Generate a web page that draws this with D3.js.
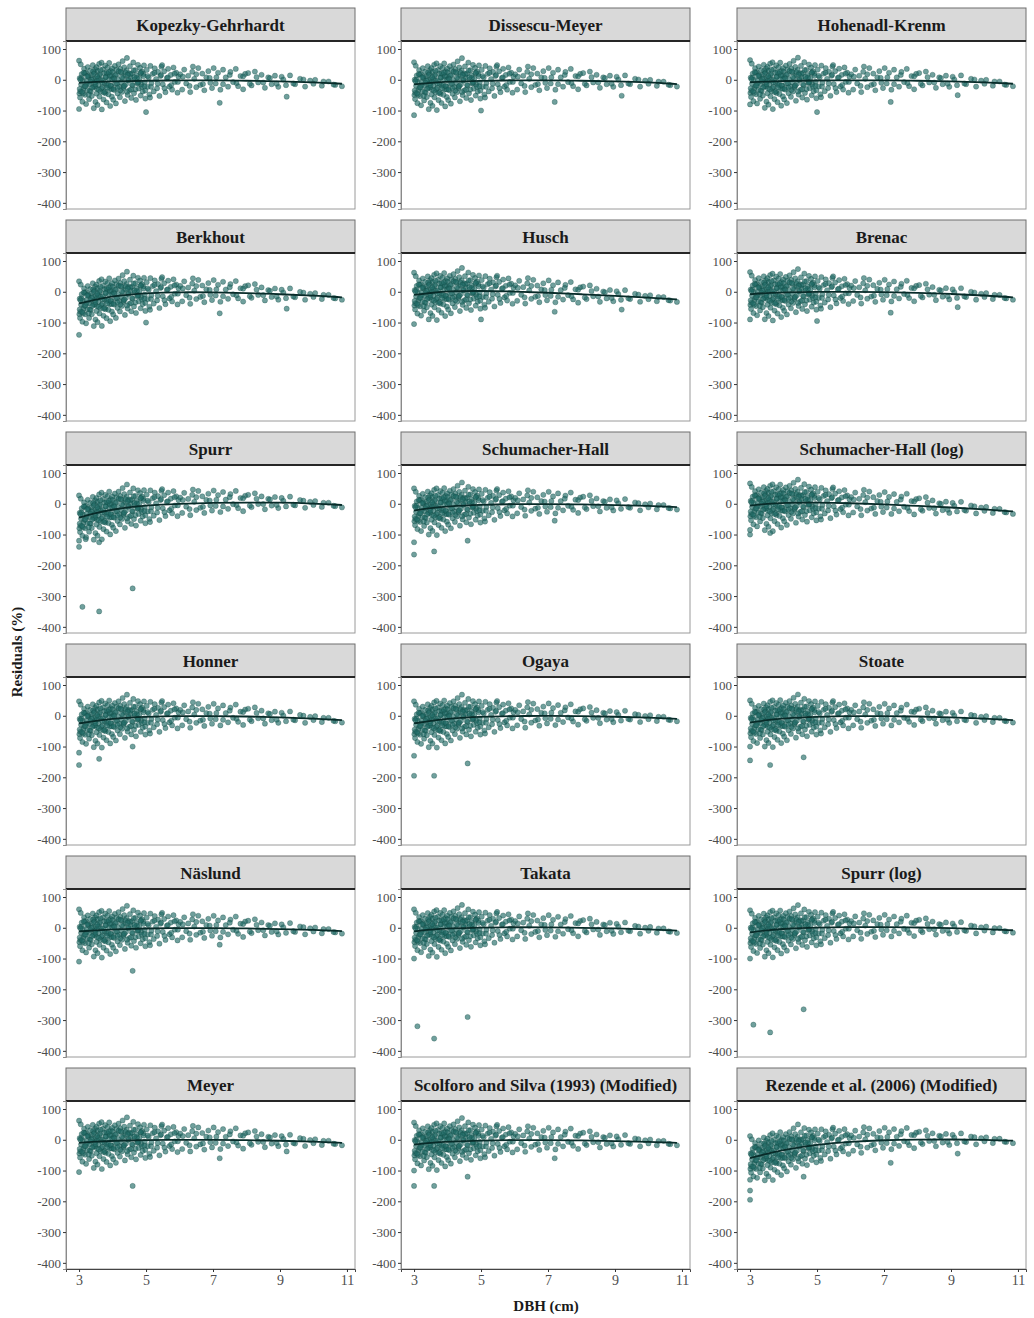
<!DOCTYPE html>
<html>
<head>
<meta charset="utf-8">
<script src="https://cdn.jsdelivr.net/npm/d3@7"></script>
<style>
  body { margin: 0; background: #fff; }
  svg { display: block; }
</style>
</head>
<body>
<script>
// model names, in facet order
const models = [
  "Kopezky-Gehrhardt", "Dissescu-Meyer", "Hohenadl-Krenm",
  "Berkhout", "Husch", "Brenac",
  "Spurr", "Schumacher-Hall", "Schumacher-Hall (log)",
  "Honner", "Ogaya", "Stoate",
  "Näslund", "Takata", "Spurr (log)",
  "Meyer", "Scolforo and Silva (1993) (Modified)", "Rezende et al. (2006) (Modified)"
];

// tree diameters (cm), shared by every model
const dbh = [
  3.00,3.01,3.02,3.03,3.05,3.06,3.08,3.10,3.11,3.13,3.15,3.16,3.18,3.20,3.21,3.23,3.25,3.26,3.28,3.30,3.31,3.33,3.35,3.36,3.38,3.40,3.41,3.43,3.44,3.46,3.47,3.48,3.49,3.50,3.04,
  3.52,3.53,3.55,3.56,3.58,3.60,3.61,3.62,3.64,3.65,3.67,3.68,3.70,3.71,3.73,3.75,3.76,3.78,3.79,3.80,3.82,3.83,3.85,3.86,3.88,3.89,3.90,3.92,3.93,3.95,3.96,3.97,3.98,3.99,3.54,
  4.00,4.02,4.03,4.05,4.07,4.08,4.10,4.12,4.13,4.15,4.17,4.18,4.20,4.22,4.23,4.25,4.27,4.28,4.30,4.32,4.33,4.35,4.37,4.38,4.40,4.42,4.43,4.45,4.47,4.48,
  4.50,4.52,4.54,4.56,4.58,4.60,4.62,4.64,4.66,4.68,4.70,4.72,4.74,4.76,4.78,4.80,4.82,4.84,4.86,4.88,4.90,4.92,4.94,4.96,4.98,
  5.02,5.05,5.08,5.10,5.13,5.16,5.20,5.23,5.26,5.30,5.33,5.36,5.40,5.43,5.46,5.50,5.54,5.58,5.62,5.66,5.70,5.74,5.78,5.82,5.86,5.90,5.94,5.97,5.12,5.48,
  6.02,6.08,6.14,6.20,6.26,6.32,6.38,6.44,6.50,6.56,6.62,6.68,6.74,6.80,6.86,6.92,6.97,6.40,
  7.02,7.08,7.15,7.22,7.30,7.38,7.45,7.52,7.60,7.68,7.75,7.82,7.90,7.96,
  8.05,8.15,8.25,8.35,8.45,8.55,8.65,8.75,8.85,8.95,
  9.05,9.18,9.30,9.45,9.60,9.75,9.90,
  10.05,10.25,10.45,10.65,10.85,
  // trees in the dense core of the cloud
  3.02,3.07,3.12,3.17,3.22,3.27,3.32,3.37,3.42,3.47,3.52,3.57,3.62,3.67,3.72,3.77,3.82,3.87,3.92,3.97,
  3.04,3.09,3.14,3.19,3.24,3.29,3.34,3.39,3.44,3.49,3.54,3.59,3.64,3.69,3.74,3.79,3.84,3.89,3.94,3.99,
  4.03,4.08,4.13,4.18,4.23,4.28,4.33,4.38,4.43,4.48,4.53,4.58,4.63,4.68,4.73,4.78,4.83,4.88,4.93,4.98,
  4.05,4.15,4.25,4.35,4.45,4.55,4.65,4.75,4.85,4.95,
  5.05,5.15,5.25,5.35,5.45,5.55,5.65,5.75,5.85,5.95,6.10,6.30,6.50,6.70,6.90,
  7.10,7.30,7.50,7.70,7.90,8.10,8.30,8.50,8.70,8.90,9.10,9.40,9.70,10.00,10.30,10.60
];

// residual scatter around each model's trend (%), same trees as dbh
const baseResid = [
  72,-35,15,-48,60,-5,28,-62,8,-20,45,-12,-40,32,-70,5,-25,50,18,-55,-8,38,-30,22,-45,10,55,-15,-85,30,-2,42,-65,12,-28,
  48,-22,-75,35,-10,58,-48,20,-32,5,62,-90,-18,40,-58,28,-5,52,-38,15,-68,-12,45,25,-42,8,60,-25,-80,34,-15,18,-50,42,3,
  30,-60,12,-28,50,-8,-72,38,22,-40,5,55,-18,-52,40,-5,28,-35,65,10,-22,45,-65,18,-10,35,75,-45,2,25,
  -30,48,12,-55,25,-15,60,-40,5,35,-62,18,-8,52,-25,8,42,-48,-12,30,-35,22,50,-5,-58,
  35,-20,10,-45,48,-8,22,-35,40,5,-25,28,-50,15,45,-12,30,-38,8,38,-20,18,-30,42,-5,25,-40,12,-55,50,
  20,-30,35,-10,15,-38,28,5,-22,40,-15,22,-32,10,30,-8,-25,45,
  40,-10,25,-30,35,10,-20,28,-5,38,-18,15,-28,22,
  25,-15,30,-5,20,-22,12,-10,18,-18,
  15,-12,20,-8,10,-15,5,
  8,-10,5,-5,-8,
  -20,15,-35,30,-5,22,-28,8,35,-15,-38,12,25,-22,5,-32,28,-10,18,-25,
  10,-30,32,-12,20,-40,2,-18,26,-8,18,-26,38,-3,-35,14,-20,30,-14,6,
  -25,20,-8,32,-30,12,-18,28,-35,4,22,-12,34,-28,10,-5,25,-20,15,-32,
  8,-22,30,-15,20,-28,12,-6,26,-18,
  15,-20,25,-10,18,-25,10,-15,22,-5,12,-18,20,-12,8,
  10,-12,18,-8,14,-10,12,-5,10,-8,6,-6,8,-5,4,-4
];

// smoothed trend of each model (%), read at these diameters
const trendDbh = [3, 3.5, 4, 5, 6, 7, 8, 9, 10, 10.85];
const trends = [
  [-10,-7,-5,-3,-2,-2,-3,-5,-8,-13],
  [-15,-10,-6,-3,-2,-2,-3,-5,-8,-14],
  [-8,-6,-4,-2,-2,-2,-3,-5,-8,-13],
  [-38,-25,-14,-4,-1,-2,-4,-8,-12,-18],
  [-10,-4,2,3,1,-3,-8,-13,-19,-25],
  [-8,-4,-2,0,0,-1,-3,-7,-12,-18],
  [-45,-30,-18,-5,0,3,4,4,1,-4],
  [-22,-14,-8,-3,-1,-1,-2,-4,-7,-11],
  [-6,0,3,4,2,-2,-7,-12,-18,-25],
  [-25,-16,-9,-3,-1,-1,-2,-5,-9,-14],
  [-25,-16,-9,-3,-1,0,-1,-3,-6,-10],
  [-22,-14,-8,-3,-1,-1,-2,-5,-9,-14],
  [-12,-8,-5,-2,-1,-1,-2,-4,-7,-11],
  [-12,-6,-2,1,2,1,0,-2,-5,-9],
  [-15,-8,-3,1,2,2,1,-1,-4,-8],
  [-10,-6,-3,-1,0,0,-1,-3,-6,-10],
  [-16,-10,-6,-2,-1,-1,-2,-4,-7,-10],
  [-60,-45,-33,-15,-6,-1,1,1,0,-3]
];

// large residuals standing apart from the cloud, [dbh, residual]
const outliers = [
  [[3.0,-95],[5.0,-105],[7.2,-75],[9.2,-55]],
  [[3.0,-115],[5.0,-100],[7.2,-72],[9.2,-52]],
  [[3.0,-80],[5.0,-105],[7.2,-72],[9.2,-50]],
  [[3.0,-140],[5.0,-100],[7.2,-70],[9.2,-55]],
  [[3.0,-105],[5.0,-90],[7.2,-65],[9.2,-58]],
  [[3.0,-90],[5.0,-95],[7.2,-68],[9.2,-50]],
  [[3.1,-335],[3.6,-350],[4.6,-275],[3.0,-140],[3.0,-120],[3.2,-115],[3.6,-125]],
  [[3.0,-165],[3.6,-155],[4.6,-120],[3.0,-125],[7.2,-55]],
  [[3.0,-100],[3.6,-95],[3.0,-85]],
  [[3.0,-160],[3.6,-140],[4.6,-100],[3.0,-120]],
  [[3.0,-195],[3.6,-195],[4.6,-155],[3.0,-130]],
  [[3.0,-145],[3.6,-160],[4.6,-135],[3.0,-100]],
  [[3.0,-110],[4.6,-140],[7.2,-55]],
  [[3.1,-320],[3.6,-360],[4.6,-290],[3.0,-100]],
  [[3.1,-315],[3.6,-340],[4.6,-265],[3.0,-100]],
  [[3.0,-105],[4.6,-150],[7.2,-60],[9.2,-38]],
  [[3.0,-100],[3.0,-150],[3.6,-150],[4.6,-120],[7.2,-60]],
  [[3.0,-195],[3.0,-165],[3.0,-130],[4.6,-120],[7.2,-75],[9.2,-45]]
];

const yTicks = [100, 0, -100, -200, -300, -400];
const xTicks = [3, 5, 7, 9, 11];

const w = 1034, h = 1318;
const colLeft = [66, 401, 737];
const panelW = 289;
const stripH = 33;
const plotH = 168;
const rowStep = 212;
const top0 = 8;

const serif = "'Liberation Serif', 'Times New Roman', serif";

const svg = d3.select("body").append("svg")
  .attr("width", w)
  .attr("height", h)
  .style("font-family", serif);

const x = d3.scaleLinear().domain([2.61, 11.24]).range([0, panelW]);
const y = d3.scaleLinear().domain([-420, 126]).range([plotH, 0]);
const trendAt = d3.scaleLinear().domain(trendDbh);

const line = d3.line()
  .x(d => x(d[0]))
  .y(d => y(d[1]))
  .curve(d3.curveBasis);

models.forEach((name, k) => {
  const col = k % 3, row = Math.floor(k / 3);
  const left = colLeft[col];
  const stripTop = top0 + row * rowStep;
  const plotTop = stripTop + stripH;
  trendAt.range(trends[k]);

  // strip
  svg.append("rect")
    .attr("x", left).attr("y", stripTop)
    .attr("width", panelW).attr("height", stripH)
    .attr("fill", "#d9d9d9").attr("stroke", "#6e6e6e").attr("stroke-width", 1);
  svg.append("text")
    .attr("x", left + panelW / 2).attr("y", stripTop + stripH / 2 + 6)
    .attr("text-anchor", "middle")
    .attr("font-size", 17).attr("font-weight", "bold").attr("fill", "#1a1a1a")
    .text(name);

  const g = svg.append("g").attr("transform", `translate(${left},${plotTop})`);

  g.append("rect")
    .attr("width", panelW).attr("height", plotH)
    .attr("fill", "#fff");

  const pts = dbh.map((d, i) => [d, baseResid[i] + trendAt(d)]).concat(outliers[k]);

  g.selectAll("circle")
    .data(pts)
    .enter()
    .append("circle")
    .attr("cx", d => x(d[0]))
    .attr("cy", d => y(d[1]))
    .attr("r", 2.6)
    .attr("fill", "#1f6b65")
    .attr("fill-opacity", 0.64)
    .attr("stroke", "#114541")
    .attr("stroke-opacity", 0.5)
    .attr("stroke-width", 0.6);

  g.append("path")
    .datum(trendDbh.map((d, i) => [d, trends[k][i]]))
    .attr("d", line)
    .attr("fill", "none")
    .attr("stroke", "#082b29")
    .attr("stroke-width", 1.8);

  g.append("rect")
    .attr("width", panelW).attr("height", plotH)
    .attr("fill", "none").attr("stroke", "#9a9a9a").attr("stroke-width", 1);

  // dark rule under the strip
  g.append("line")
    .attr("x1", 0).attr("x2", panelW)
    .attr("y1", 0).attr("y2", 0)
    .attr("stroke", "#262626").attr("stroke-width", 2);

  const yAxis = g.append("g")
    .call(d3.axisLeft(y).tickValues(yTicks).tickSize(3).tickPadding(2).tickFormat(d => String(d)));
  yAxis.select(".domain").attr("stroke", "#8a8a8a");
  yAxis.selectAll(".tick line").attr("stroke", "#333");
  yAxis.selectAll("text")
    .attr("font-family", serif).attr("font-size", 13).attr("fill", "#4d4d4d");

  if (row === 5) {
    const xAxis = g.append("g")
      .attr("transform", `translate(0,${plotH})`)
      .call(d3.axisBottom(x).tickValues(xTicks).tickSize(3).tickPadding(3));
    xAxis.select(".domain").attr("stroke", "#444");
    xAxis.selectAll(".tick line").attr("stroke", "#333");
    xAxis.selectAll("text")
      .attr("font-family", serif).attr("font-size", 14).attr("fill", "#4d4d4d");
  }
});

svg.append("text")
  .attr("x", 546).attr("y", 1311)
  .attr("text-anchor", "middle")
  .attr("font-size", 15).attr("font-weight", "bold").attr("fill", "#1a1a1a")
  .text("DBH (cm)");

svg.append("text")
  .attr("transform", "translate(22,652) rotate(-90)")
  .attr("text-anchor", "middle")
  .attr("font-size", 15).attr("font-weight", "bold").attr("fill", "#1a1a1a")
  .text("Residuals (%)");
</script>
</body>
</html>
